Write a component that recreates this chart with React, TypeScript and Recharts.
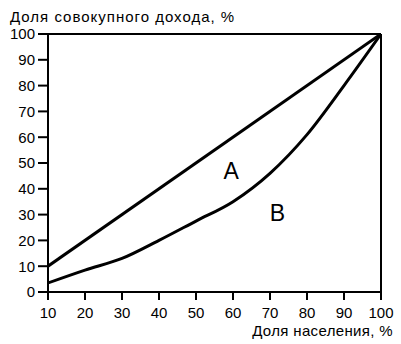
import { Label, Line, LineChart, ReferenceDot, ReferenceLine, XAxis, YAxis } from 'recharts'

const xTicks = [10, 20, 30, 40, 50, 60, 70, 80, 90, 100]
const yTicks = [0, 10, 20, 30, 40, 50, 60, 70, 80, 90, 100]

const equalityX = [10, 100]
const equalityY = [10, 100]

const lorenzX = [10, 20, 30, 40, 50, 60, 70, 80, 90, 100]
const lorenzY = [3.5, 8.5, 13, 20, 27.5, 35, 46, 61, 80, 100]

const equalityData = equalityX.map((x, i) => ({ x, y: equalityY[i] }))
const lorenzData = lorenzX.map((x, i) => ({ x, y: lorenzY[i] }))

const font = '"Liberation Sans", Arial, sans-serif'

function letter(text: string) {
  return ({ viewBox }: any) => (
    <text
      x={viewBox.x}
      y={viewBox.y}
      textAnchor="middle"
      dominantBaseline="central"
      fontSize={23}
      fontFamily={font}
      fill="#000"
    >
      {text}
    </text>
  )
}

export default function App() {
  return (
    <div style={{ position: 'absolute', left: 0, top: 0, background: '#fff' }}>
      <LineChart width={401} height={344} margin={{ top: 34, right: 20, left: 0, bottom: 0 }}>
        <XAxis
          type="number"
          dataKey="x"
          domain={[10, 100]}
          ticks={xTicks}
          allowDataOverflow
          height={52}
          tickSize={8}
          tickMargin={7}
          stroke="#000"
          strokeWidth={2}
          tick={{ fill: '#000', fontSize: 15, fontFamily: font }}
        >
          <Label
            content={() => (
              <text
                x={393}
                y={336}
                textAnchor="end"
                fontSize={15}
                letterSpacing={0.35}
                fontFamily={font}
                fill="#000"
              >
                Доля населения, %
              </text>
            )}
          />
        </XAxis>
        <YAxis
          type="number"
          dataKey="y"
          domain={[0, 100]}
          ticks={yTicks}
          allowDataOverflow
          width={48}
          tickSize={10}
          tickMargin={3}
          stroke="#000"
          strokeWidth={2}
          tick={{ fill: '#000', fontSize: 15, fontFamily: font }}
        >
          <Label
            content={() => (
              <text x={10} y={22} fontSize={15} letterSpacing={1} fontFamily={font} fill="#000">
                Доля совокупного дохода, %
              </text>
            )}
          />
        </YAxis>
        <ReferenceLine y={100} stroke="#000" strokeWidth={2} />
        <ReferenceLine x={100} stroke="#000" strokeWidth={2} />
        <Line
          data={equalityData}
          dataKey="y"
          type="linear"
          stroke="#000"
          strokeWidth={3}
          dot={false}
          isAnimationActive={false}
        />
        <Line
          data={lorenzData}
          dataKey="y"
          type="monotone"
          stroke="#000"
          strokeWidth={3}
          dot={false}
          isAnimationActive={false}
        />
        <ReferenceDot x={59.5} y={47} r={0} stroke="none" label={letter('A')} />
        <ReferenceDot x={72} y={30.5} r={0} stroke="none" label={letter('B')} />
      </LineChart>
    </div>
  )
}
